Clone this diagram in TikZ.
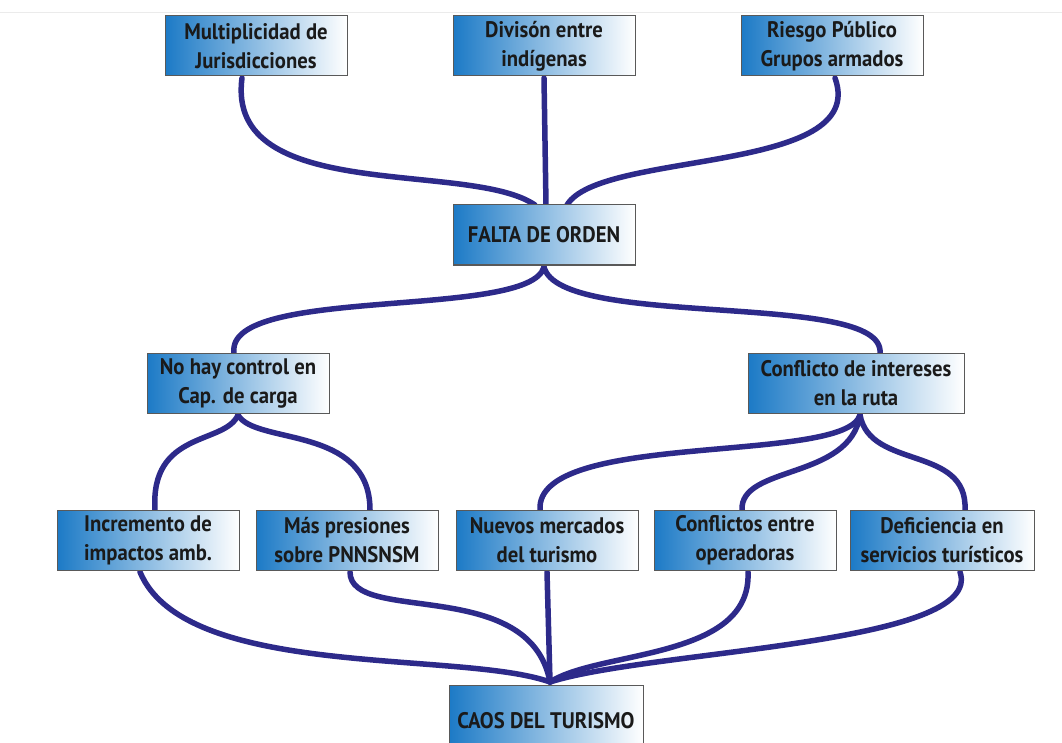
\documentclass[tikz,border=0pt]{standalone}
\usepackage{fontspec}
\setmainfont{PT Sans}[FakeStretch=0.92]
\definecolor{boxblue}{HTML}{1C7AC6}
\definecolor{linkcol}{HTML}{2D2A8A}
\definecolor{txtcol}{HTML}{1A1A1A}
\tikzset{
  box/.style={draw=black!65, line width=1pt, left color=boxblue, right color=white,
    minimum width=182pt, minimum height=60pt, inner sep=0pt, align=center,
    font=\fontsize{22.5pt}{29pt}\selectfont\bfseries, text=txtcol},
  link/.style={draw=linkcol, line width=5.5pt, line cap=round}
}
\begin{document}
\begin{tikzpicture}[x=1pt,y=-1pt]
\useasboundingbox (0,0) rectangle (1062,743);
\fill[white] (0,0) rectangle (1062,743);
\draw[black!8, line width=0.8pt] (0,12) -- (1062,12);
% connectors first (behind boxes)
\coordinate (cmult) at (242,78);
\coordinate (cdiv) at (544,78);
\coordinate (criesgo) at (835,78);
\coordinate (fin1) at (535,205);
\coordinate (fin2) at (546,205);
\coordinate (fin3) at (567,205);
\coordinate (fout) at (544,267);
\coordinate (nhin) at (234,353);
\coordinate (ciin) at (880,353);
\coordinate (nhout) at (238,415);
\coordinate (ciout) at (860,415);
\coordinate (incin) at (155,510);
\coordinate (masin) at (370,510);
\coordinate (nuein) at (540,510);
\coordinate (conin) at (742,510);
\coordinate (defin) at (965,510);
\coordinate (incout) at (140,572);
\coordinate (masout) at (350,572);
\coordinate (nueout) at (547,572);
\coordinate (conout) at (748,572);
\coordinate (defout) at (960,572);
\coordinate (caosin) at (550,682);

\path[link] (cmult) .. controls (225,205) and (470,160) .. (fin1);
\path[link] (cdiv) -- (fin2);
\path[link] (criesgo) .. controls (870,175) and (600,150) .. (fin3);
\path[link] (fout) .. controls (530,320) and (225,285) .. (nhin);
\path[link] (fout) .. controls (560,330) and (885,290) .. (ciin);
\path[link] (nhout) .. controls (225,445) and (150,430) .. (incin);
\path[link] (nhout) .. controls (255,445) and (370,425) .. (masin);
\path[link] (ciout) .. controls (845,465) and (535,430) .. (nuein);
\path[link] (ciout) .. controls (850,480) and (740,465) .. (conin);
\path[link] (ciout) .. controls (870,470) and (968,445) .. (defin);
\path[link] (incout) .. controls (185,680) and (460,650) .. (caosin);
\path[link] (masout) .. controls (350,625) and (530,575) .. (caosin);
\path[link] (nueout) -- (caosin);
\path[link] (conout) .. controls (752,660) and (600,650) .. (caosin);
\path[link] (defout) .. controls (985,645) and (650,650) .. (caosin);

% boxes
\node[box] (mult) at (256,46) {Multiplicidad de\\Jurisdicciones};
\node[box] (div) at (544,46) {Divisón entre\\indígenas};
\node[box] (riesgo) at (832,46) {Riesgo Público\\Grupos armados};
\node[box] (falta) at (544,235) {FALTA DE ORDEN};
\node[box] (nohay) at (238,383) {No hay control en\\Cap. de carga};
\node[box, minimum width=216pt] (confi) at (856,383) {Conflicto de intereses\\en la ruta};
\node[box] (inc) at (148,540) {Incremento de\\impactos amb.};
\node[box] (mas) at (347,540) {Más presiones\\sobre PNNSNSM};
\node[box] (nue) at (547,540) {Nuevos mercados\\del turismo};
\node[box] (conf) at (745,540) {Conflictos entre\\operadoras};
\node[box, minimum width=184pt] (def) at (942,540) {Deficiencia en\\servicios turísticos};
\node[box, minimum width=194pt, minimum height=74pt] (caos) at (546,722) {\raisebox{4pt}{CAOS DEL TURISMO}};
\end{tikzpicture}
\end{document}
